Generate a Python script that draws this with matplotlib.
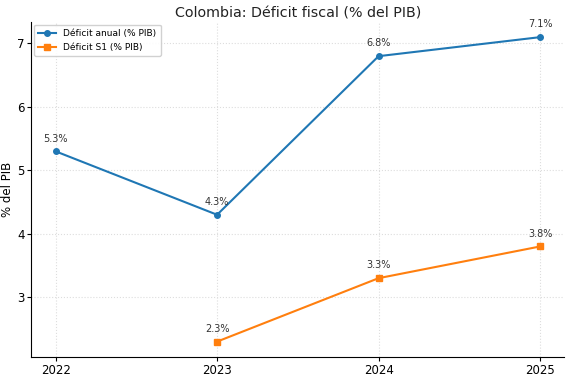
import matplotlib.pyplot as plt

years = [2022, 2023, 2024, 2025]
deficit_anual = [5.3, 4.3, 6.8, 7.1]
years_s1 = [2023, 2024, 2025]
deficit_s1 = [2.3, 3.3, 3.8]

fig, ax = plt.subplots(figsize=(5.7, 3.78), dpi=100)

ax.plot(years, deficit_anual, marker='o', markersize=4, color='#1f77b4', label='Déficit anual (% PIB)')
ax.plot(years_s1, deficit_s1, marker='s', markersize=4, color='#ff7f0e', label='Déficit S1 (% PIB)')

for x, y in zip(years, deficit_anual):
    ax.annotate(f"{y}%", (x, y), textcoords='offset points', xytext=(0, 7),
                ha='center', fontsize=7, color='#333333')
for x, y in zip(years_s1, deficit_s1):
    ax.annotate(f"{y}%", (x, y), textcoords='offset points', xytext=(0, 7),
                ha='center', fontsize=7, color='#333333')

ax.set_title("Colombia: Déficit fiscal (% del PIB)", fontsize=10.3, color='#222222', pad=3)
ax.set_ylabel("% del PIB", fontsize=8.5, labelpad=2)
ax.set_xticks(years)
ax.tick_params(labelsize=8.5, length=3, pad=2)
ax.grid(True, linestyle=':', color='#dddddd', linewidth=0.8)
ax.spines['top'].set_visible(False)
ax.spines['right'].set_visible(False)
ax.legend(loc='upper left', fontsize=6.5, framealpha=0.9, handlelength=2.0,
          borderaxespad=0.3, borderpad=0.45, labelspacing=0.6)

fig.subplots_adjust(left=0.055, right=0.99, top=0.942, bottom=0.056)
fig.savefig('out.png')
